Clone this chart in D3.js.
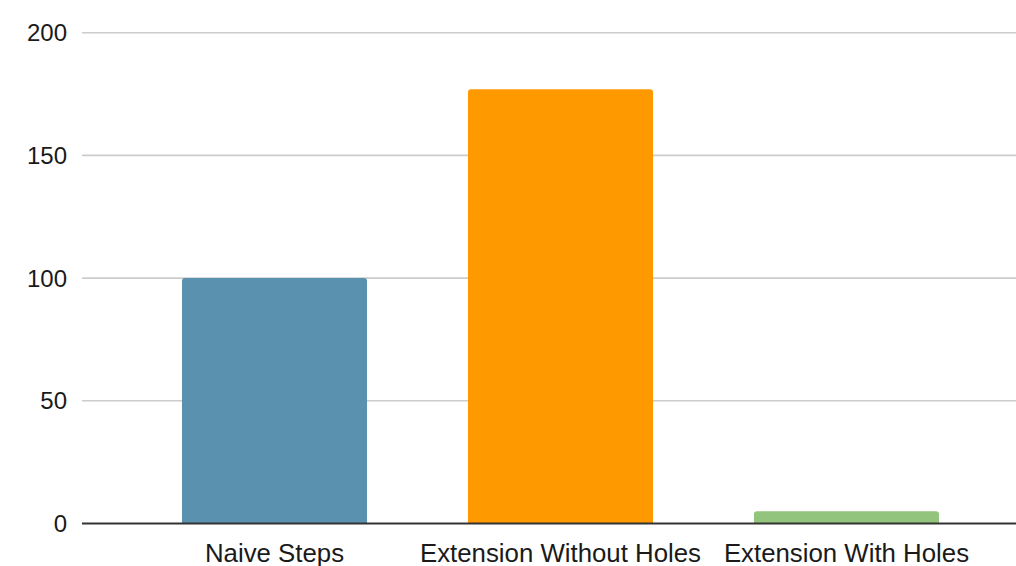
<!DOCTYPE html>
<html>
<head>
<meta charset="utf-8">
<script src="https://cdn.jsdelivr.net/npm/d3@7"></script>
<style>
  html, body { margin: 0; padding: 0; background: #fff; }
  svg { display: block; }
  text { font-family: "Liberation Sans", Arial, sans-serif; fill: #1a1a1a; }
</style>
</head>
<body>
<svg id="chart" width="1016" height="566"></svg>
<script>
const categories = ["Naive Steps", "Extension Without Holes", "Extension With Holes"];
const values = [100, 177, 5];
const barColors = ["#5a91ae", "#ff9900", "#93c47d"];
const yTicks = [0, 50, 100, 150, 200];

const svg = d3.select("#chart");
const W = 1016, H = 566;
const gridLeft = 82, gridRight = W;

const y = d3.scaleLinear().domain([0, 200]).range([523.5, 32.7]);
const x = d3.scaleBand()
  .domain(categories)
  .range([131.5, 989.5])
  .paddingInner(0.353)
  .paddingOuter(0.1765);

// horizontal gridlines
svg.append("g")
  .selectAll("line")
  .data(yTicks.filter(t => t > 0))
  .join("line")
  .attr("x1", gridLeft).attr("x2", gridRight)
  .attr("y1", d => y(d)).attr("y2", d => y(d))
  .attr("stroke", "#cccccc")
  .attr("stroke-width", 1.6);

// y tick labels
svg.append("g")
  .selectAll("text")
  .data(yTicks)
  .join("text")
  .attr("x", 67)
  .attr("y", d => y(d))
  .attr("text-anchor", "end")
  .attr("dominant-baseline", "central")
  .attr("font-size", 24)
  .text(d => d);

// bars with rounded top corners
const r = 3;
function barPath(x0, w, yTop, yBase) {
  const rr = Math.min(r, (yBase - yTop) / 2, w / 2);
  return `M${x0},${yBase}V${yTop + rr}Q${x0},${yTop} ${x0 + rr},${yTop}` +
         `H${x0 + w - rr}Q${x0 + w},${yTop} ${x0 + w},${yTop + rr}V${yBase}Z`;
}
svg.append("g")
  .selectAll("path")
  .data(categories.map((c, i) => ({ c, v: values[i], color: barColors[i] })))
  .join("path")
  .attr("d", d => barPath(x(d.c), x.bandwidth(), y(d.v), y(0)))
  .attr("fill", d => d.color);

// baseline
svg.append("line")
  .attr("x1", gridLeft).attr("x2", gridRight)
  .attr("y1", y(0)).attr("y2", y(0))
  .attr("stroke", "#333333")
  .attr("stroke-width", 2);

// category labels
svg.append("g")
  .selectAll("text")
  .data(categories)
  .join("text")
  .attr("x", d => x(d) + x.bandwidth() / 2)
  .attr("y", 561.5)
  .attr("text-anchor", "middle")
  .attr("font-size", 25.8)
  .text(d => d);
</script>
</body>
</html>
